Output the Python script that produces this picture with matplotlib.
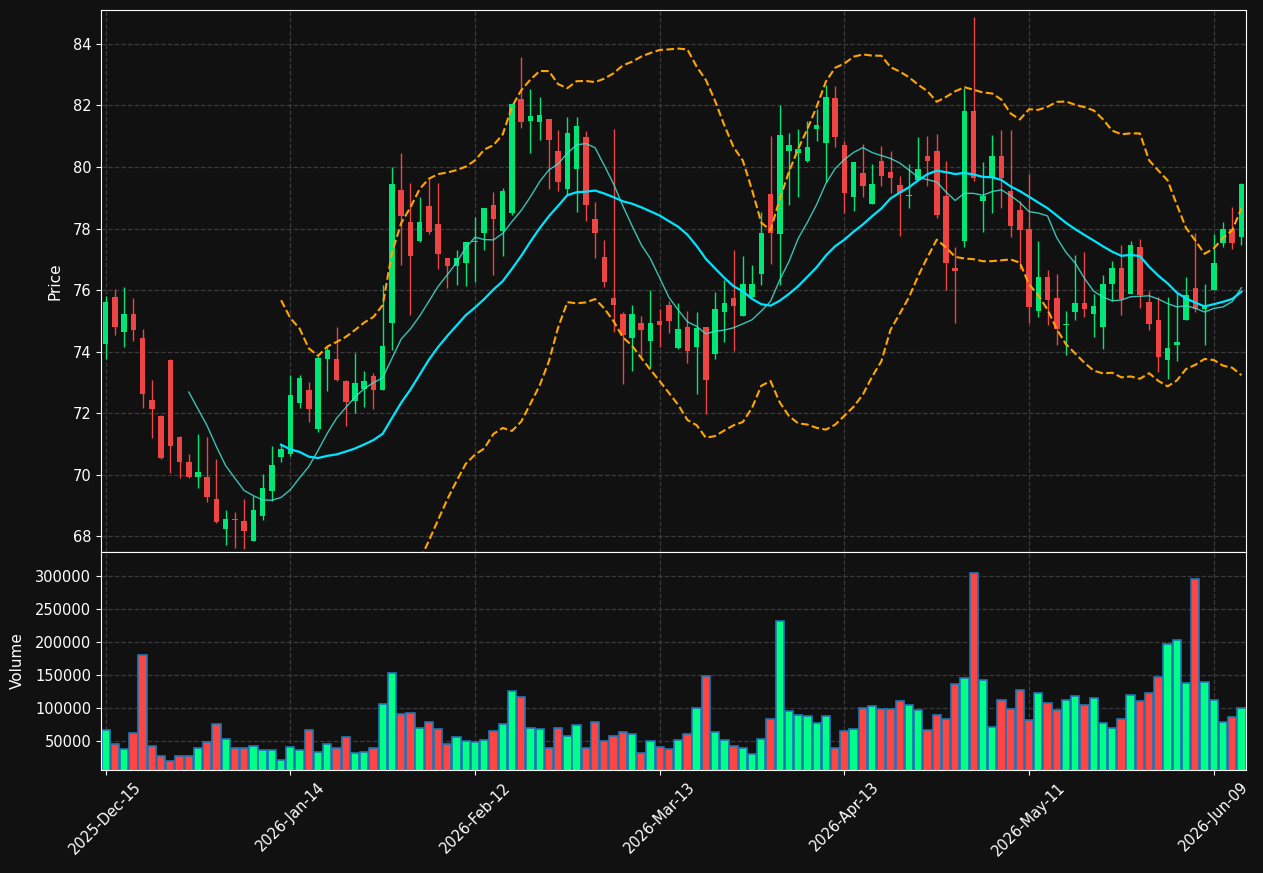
import matplotlib
matplotlib.use("Agg")
import matplotlib.pyplot as plt
import numpy as np
import pandas as pd

# NYSE trading days, Dec 2025 - Jun 2026
holidays = ["2025-12-25", "2026-01-01", "2026-01-19", "2026-02-16", "2026-04-03", "2026-05-25"]
dates = pd.bdate_range("2025-12-15", "2026-06-12")
dates = dates[~dates.isin(pd.to_datetime(holidays))]

opens = [
    74.25, 75.76, 74.64, 75.21, 74.43, 72.42, 71.90, 73.72, 71.24, 70.41,
    69.92, 69.94, 69.20, 68.24, 68.55, 68.49, 67.86, 68.66, 69.47, 70.58,
    70.69, 72.33, 72.75, 71.48, 73.76, 73.75, 73.04, 72.41, 72.78, 73.20,
    72.76, 74.93, 79.24, 78.20, 77.58, 78.72, 78.14, 77.05, 76.77, 76.88,
    77.55, 77.86, 78.76, 77.92, 78.50, 82.20, 81.50, 81.47, 81.55, 80.51,
    79.29, 79.94, 80.99, 78.31, 77.06, 75.73, 75.21, 74.44, 74.92, 74.36,
    74.98, 75.50, 74.12, 74.79, 74.15, 74.79, 73.92, 75.29, 75.73, 75.16,
    75.76, 76.52, 79.11, 77.83, 80.52, 80.46, 80.21, 81.24, 80.78, 82.24,
    80.72, 79.03, 79.79, 78.80, 80.19, 79.83, 79.41, 79.05, 79.59, 80.37,
    80.51, 79.05, 76.71, 77.59, 81.81, 78.89, 79.64, 80.35, 79.21, 78.60,
    77.98, 75.32, 76.42, 75.73, 74.86, 75.29, 75.57, 75.21, 74.80, 76.19,
    76.73, 75.88, 77.39, 75.60, 75.02, 73.73, 74.20, 75.02, 76.06, 75.40,
    75.99, 77.53, 77.98, 77.73]
highs = [
    75.80, 76.02, 76.09, 75.75, 74.75, 73.08, 71.95, 73.75, 71.27, 70.66,
    71.33, 71.22, 70.52, 68.86, 68.78, 69.20, 69.31, 70.03, 70.92, 71.00,
    73.23, 73.23, 73.03, 73.85, 74.16, 74.79, 73.08, 73.97, 73.38, 73.31,
    76.17, 80.00, 80.44, 79.47, 79.03, 79.60, 79.49, 77.05, 77.31, 77.56,
    78.37, 78.66, 79.20, 79.33, 82.05, 83.59, 82.54, 82.29, 81.55, 81.19,
    81.64, 81.64, 81.16, 78.85, 77.64, 81.22, 75.30, 75.53, 75.16, 75.99,
    75.40, 75.63, 75.58, 75.33, 75.30, 74.79, 75.95, 76.33, 77.30, 77.11,
    76.81, 78.54, 81.02, 82.03, 81.12, 81.22, 81.51, 81.90, 82.67, 82.64,
    80.86, 80.16, 80.76, 80.11, 80.67, 80.51, 79.72, 80.11, 80.98, 81.02,
    81.08, 80.20, 77.41, 82.56, 84.89, 80.16, 81.05, 81.19, 81.19, 78.90,
    79.76, 77.60, 76.64, 76.53, 75.33, 77.15, 77.25, 75.88, 76.50, 76.96,
    77.45, 77.60, 77.67, 75.97, 75.76, 75.77, 75.92, 76.44, 77.86, 76.21,
    77.81, 78.20, 78.71, 79.49]
lows = [
    73.76, 74.55, 74.14, 74.33, 72.16, 71.21, 70.50, 70.07, 69.88, 69.88,
    69.58, 69.12, 68.44, 67.73, 67.63, 67.58, 67.84, 68.54, 69.14, 70.43,
    70.60, 72.16, 71.73, 71.40, 72.72, 73.05, 71.59, 72.01, 72.21, 72.15,
    72.74, 74.05, 76.81, 75.18, 77.55, 77.81, 76.67, 76.08, 76.17, 76.14,
    76.27, 77.30, 76.49, 77.12, 78.43, 81.28, 80.45, 80.88, 79.30, 79.23,
    79.11, 78.54, 78.24, 77.05, 76.11, 74.64, 72.95, 73.38, 73.80, 73.46,
    74.14, 74.61, 74.10, 73.64, 72.63, 71.99, 73.77, 74.32, 74.03, 75.16,
    75.76, 76.17, 76.86, 76.17, 78.75, 79.04, 80.15, 80.86, 79.51, 80.66,
    78.51, 78.56, 79.03, 78.80, 79.39, 79.16, 77.77, 78.68, 79.59, 79.39,
    78.35, 76.00, 74.92, 77.41, 79.56, 77.90, 78.49, 78.68, 77.74, 76.67,
    74.92, 75.11, 74.88, 74.21, 73.89, 75.03, 75.13, 74.46, 74.09, 75.66,
    75.19, 75.88, 75.41, 74.70, 73.34, 73.11, 73.69, 75.02, 75.29, 74.21,
    75.99, 77.39, 77.32, 77.45]
closes = [
    75.60, 74.80, 75.21, 74.70, 72.62, 72.14, 70.54, 70.94, 70.41, 69.92,
    70.08, 69.28, 68.46, 68.55, 68.52, 68.17, 68.87, 69.56, 70.31, 70.84,
    72.58, 73.14, 72.14, 73.79, 74.05, 73.07, 72.36, 72.97, 73.06, 72.75,
    74.17, 79.44, 78.41, 77.11, 78.20, 77.89, 77.18, 76.77, 77.05, 77.56,
    77.58, 78.66, 78.32, 79.21, 82.05, 81.47, 81.65, 81.68, 80.88, 79.50,
    81.10, 81.32, 78.77, 77.85, 76.26, 75.51, 74.53, 75.21, 74.70, 74.92,
    74.87, 74.99, 74.72, 74.02, 74.76, 73.07, 75.38, 75.57, 75.47, 76.19,
    76.19, 77.84, 77.85, 81.03, 80.71, 80.58, 80.64, 81.36, 82.29, 80.98,
    79.15, 80.16, 79.39, 79.44, 79.71, 79.65, 79.16, 79.07, 79.95, 80.20,
    78.43, 76.88, 76.62, 81.81, 79.65, 79.05, 80.35, 79.64, 78.08, 77.95,
    75.46, 76.42, 75.68, 74.72, 74.90, 75.57, 75.38, 75.47, 76.19, 76.73,
    75.72, 77.48, 75.83, 74.89, 73.82, 74.11, 74.31, 75.83, 75.40, 75.50,
    76.87, 77.98, 77.53, 79.44]
volumes = [
    66700, 45500, 37900, 62100, 180300, 43900, 28800, 21200, 28800, 27300,
    39400, 48500, 75800, 54500, 39400, 39400, 43900, 36400, 36400, 22700,
    42400, 36400, 66700, 34800, 45500, 39400, 56100, 33300, 34800, 40900,
    106100, 153000, 90900, 92400, 69700, 78800, 68200, 45500, 56100, 50000,
    48500, 51500, 65200, 75800, 125800, 116700, 69700, 68200, 39400, 69700,
    57600, 74200, 40900, 78800, 50000, 57600, 63600, 60600, 33300, 50000,
    42400, 37900, 53000, 60600, 100000, 148500, 63600, 53000, 43900, 39400,
    31800, 54500, 83300, 231800, 95500, 89400, 87900, 77300, 87900, 40900,
    65200, 68200, 100000, 103000, 98500, 98500, 110600, 104500, 97000, 66700,
    89400, 83300, 136400, 145500, 304500, 142400, 71200, 112100, 98500, 127300,
    81800, 122700, 107600, 97000, 112100, 118200, 104500, 115200, 77300, 69700,
    83300, 119700, 110600, 122700, 147000, 197000, 203000, 137900, 295500, 139400,
    112100, 78800, 86400, 100000]

df = pd.DataFrame({"Open": opens, "High": highs, "Low": lows,
                   "Close": closes, "Volume": volumes}, index=dates[:len(opens)])
df["MA10"] = df["Close"].rolling(10).mean()
df["MA20"] = df["Close"].rolling(20).mean()
std20 = df["Close"].rolling(20).std(ddof=0)
df["Upper"] = df["MA20"] + 2 * std20
df["Lower"] = df["MA20"] - 2 * std20

BG = "#111111"
UP, DOWN = "#00e676", "#ef4444"
VUP, VDOWN = "#00ff88", "#ff4444"

fig = plt.figure(figsize=(12.63, 8.73), dpi=100, facecolor=BG)
ax1 = fig.add_axes([0.0800, 0.3677, 0.9066, 0.6208])
ax2 = fig.add_axes([0.0800, 0.1180, 0.9066, 0.2497], sharex=ax1)

x = np.arange(len(df))
up = df["Close"] >= df["Open"]
ccol = np.where(up, UP, DOWN)
vcol = np.where(up, VUP, VDOWN)

# candles
ax1.vlines(x, df["Low"], df["High"], colors=ccol, linewidth=1, zorder=2)
body_lo = np.minimum(df["Open"], df["Close"])
body_h = np.maximum((df["Close"] - df["Open"]).abs(), 0.04)
ax1.bar(x, body_h, bottom=body_lo, width=0.6, color=ccol, zorder=3)

ax1.plot(x, df["MA10"], color="#40e0d0", alpha=0.85, linewidth=1, zorder=4)
ax1.plot(x, df["MA20"], color="#00e5ff", linewidth=1.6, zorder=4)
ax1.plot(x, df["Upper"], color="#ffa500", linestyle="--", linewidth=1.5, zorder=4)
ax1.plot(x, df["Lower"], color="#ffa500", linestyle="--", linewidth=1.5, zorder=4)

ax2.bar(x, df["Volume"], width=0.9, color=vcol, edgecolor="#1f77b4", linewidth=1.2)

ax1.set_ylim(67.49, 85.1)
ax1.set_yticks(np.arange(68, 85, 2))
ax2.set_ylim(6900, 336600)
ax2.set_yticks(np.arange(50000, 300001, 50000))
ax2.ticklabel_format(axis="y", style="plain")
ax1.set_xlim(-0.5, len(df) - 0.5)

ticks = np.arange(0, len(df), 20)
ax2.set_xticks(ticks)
ax2.set_xticklabels([d.strftime("%Y-%b-%d") for d in df.index[ticks]], rotation=45)
plt.setp(ax1.get_xticklabels(), visible=False)

for ax in (ax1, ax2):
    ax.set_facecolor(BG)
    ax.grid(True, color="#3a3a3a", linestyle="--", linewidth=0.9)
    ax.set_axisbelow(True)
    for s in ax.spines.values():
        s.set_color("white")
    ax.tick_params(colors="white", labelsize=10.5)
ax1.tick_params(axis="x", length=0)

ax1.set_ylabel("Price", color="white", fontsize=11, labelpad=7)
ax2.set_ylabel("Volume", color="white", fontsize=11, labelpad=7)

fig.savefig("out.png", dpi=100, facecolor=BG)
